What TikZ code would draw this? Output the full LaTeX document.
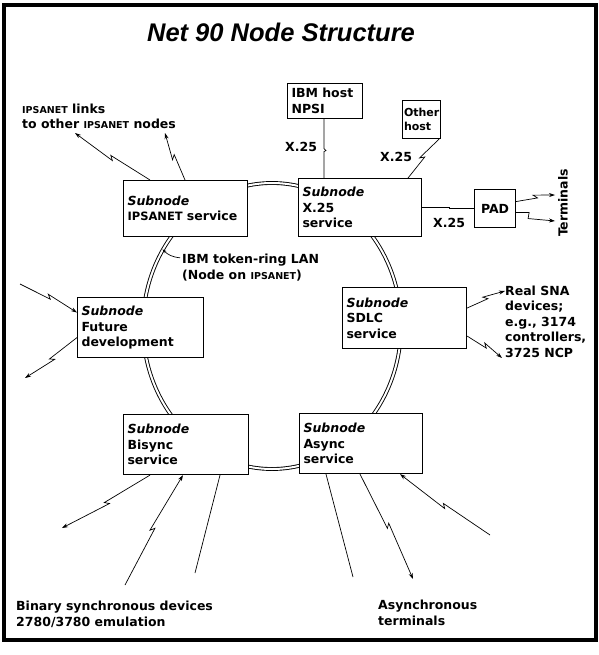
\documentclass[tikz,border=0pt]{standalone}
\usepackage{fontspec}
\setmainfont{DejaVu Sans}
\newfontfamily\titlefont{Liberation Sans}
\usetikzlibrary{calc,arrows.meta,shapes.geometric}
\newcommand\smc[1]{{\fontsize{9.5}{11}\selectfont #1}}
\newcommand\bolt[3][]{\draw[conn,#1] (#2) -- ($(#2)!0.5!(#3)!2pt!(#3)$) -- ($(#2)!0.5!(#3)!-2pt!(#3)!3.5pt!90:(#3)$) -- (#3);}
\tikzset{
  lbl/.style={font=\bfseries\fontsize{12.5}{15.5}\selectfont, inner sep=0pt, align=left, anchor=base west},
  box/.style={draw, line width=1.1pt, fill=white, inner xsep=4pt, inner ysep=0pt, align=left,
              font=\bfseries\fontsize{12.5}{15.5}\selectfont, anchor=north west},
  conn/.style={line width=0.7pt},
  tip/.style={-{Stealth[length=6pt,width=4pt]}},
  ringstyle/.style={ellipse, draw, double, double distance=2pt, line width=0.9pt, inner sep=0pt}
}
\begin{document}
\begin{tikzpicture}[x=1pt,y=-1pt]
\useasboundingbox (0,0) rectangle (598,655);
\draw[line width=4pt] (4,5) rectangle (596,640);

\node[font=\titlefont\bfseries\itshape\fontsize{25.5}{30}\selectfont, anchor=base, inner sep=0pt] (title) at (281,42) {Net 90 Node Structure};

% ring
\node[ringstyle, minimum width=258pt, minimum height=286pt] (ring) at (272,326) {};

% boxes
\node[box, text width=116pt, minimum height=56pt] (ips) at (123,180) {\textit{Subnode}\\\smc{\fontsize{11.5}{11}\selectfont IPSANET} service};
\node[box, text width=115pt, minimum height=58pt] (x25) at (298,178) {\textit{Subnode}\\X.25\\service};
\node[box, text width=118pt, minimum height=60pt] (fut) at (77,297) {\textit{Subnode}\\Future\\development};
\node[box, text width=116pt, minimum height=61pt] (sdlc) at (342,287) {\textit{Subnode}\\SDLC\\service};
\node[box, text width=117pt, minimum height=60pt] (bis) at (123,414) {\textit{Subnode}\\Bisync\\service};
\node[box, text width=115pt, minimum height=60pt] (asy) at (299,413) {\textit{Subnode}\\Async\\service};
\node[box, text width=67pt, minimum height=35pt] (npsi) at (287,83) {IBM host\\NPSI};
\node[box, inner xsep=1.5pt, text width=35pt, minimum height=38pt, font=\bfseries\fontsize{11}{14}\selectfont] (oth) at (402,100) {Other\\host};
\node[box, align=center, minimum width=41pt, minimum height=38pt] (pad) at (474,189) {PAD};

% labels (anchor = baseline of last line)
\node[lbl] (links) at (22,129) {\smc{IPSANET} links\\to other \smc{IPSANET} nodes};
\node[lbl] (lan) at (182,279) {IBM token-ring LAN\\(Node on \smc{IPSANET})};
\node[lbl] (xa) at (285,152) {X.25};
\node[lbl] (xb) at (380,162) {X.25};
\node[lbl] (xc) at (433,227) {X.25};
\node[lbl, anchor=center, rotate=90] (term) at (563,203) {Terminals};
\node[lbl] (sna) at (505,357) {Real SNA\\devices;\\e.g., 3174\\controllers,\\3725 NCP};
\node[lbl] (bsd) at (16,626) {Binary synchronous devices\\2780/3780 emulation};
\node[lbl] (ast) at (378,625) {Asynchronous\\terminals};

% coordinates
\coordinate (t1) at (75,133);
\coordinate (t2) at (165,133);
\coordinate (i1) at ($(ips.north west)+(27,0)$);
\coordinate (i2) at ($(ips.north west)+(62,0)$);
\coordinate (n1) at ($(npsi.south west)+(37,0)$);
\coordinate (n2) at ($(x25.north west)+(26,0)$);
\coordinate (o1) at ($(x25.north west)+(110,0)$);
\coordinate (o2) at ($(oth.south east)+(-2,0)$);
\coordinate (p1) at ($(pad.east)+(0,-7)$);
\coordinate (p3) at ($(pad.east)+(0,4)$);
\coordinate (r1) at (555,195);
\coordinate (r2) at (555,221);
\coordinate (f1) at (20,284);
\coordinate (f2) at (25,378);
\coordinate (fi) at ($(fut.west)+(0,-15)$);
\coordinate (fo) at ($(fut.west)+(0,10)$);
\coordinate (s1) at ($(sdlc.east)+(0,-10)$);
\coordinate (s2) at ($(sdlc.east)+(0,18)$);
\coordinate (q1) at (505,291);
\coordinate (q2) at (502,358);
\coordinate (bb1) at ($(bis.south west)+(27,0)$);
\coordinate (bb2) at ($(bis.south west)+(60,0)$);
\coordinate (bb3) at ($(bis.south west)+(97,0)$);
\coordinate (be1) at (62,528);
\coordinate (be2) at (125,585);
\coordinate (be3) at (195,573);
\coordinate (aa1) at ($(asy.south west)+(27,0)$);
\coordinate (aa2) at ($(asy.south west)+(61,0)$);
\coordinate (aa3) at ($(asy.south west)+(101,0)$);
\coordinate (ae1) at (353,577);
\coordinate (ae2) at (413,579);
\coordinate (ae3) at (490,535);
\coordinate (lanpt) at ($(lan.north west)+(-2,4)$);

% connectors
\bolt[tip]{i1}{t1}
\bolt[tip]{i2}{t2}
\draw[conn] (n1) -- ($(n1)!0.5!(n2)$) -- ++(2,2) -- ++(-2,1) -- (n2);
\bolt{o1}{o2}
\draw[conn] (x25.east) -- ++(27,0) |- (pad.west);
\bolt[tip]{p1}{r1}
\draw[conn,tip] (p3) -- ++(13,0) -- ++(-1,6) -- (r2);
\bolt[tip]{f1}{fi}
\bolt[tip]{fo}{f2}
\bolt[tip]{s1}{q1}
\bolt[tip]{s2}{q2}
\bolt[tip]{bb1}{be1}
\bolt[tip]{be2}{bb2}
\draw[conn] (bb3) -- (be3);
\draw[conn] (aa1) -- (ae1);
\bolt[tip]{aa2}{ae2}
\bolt[tip]{ae3}{aa3}
\draw[conn,-{Stealth[length=4pt,width=3pt]}] (lanpt) to[bend left=20] (ring.145);
\end{tikzpicture}
\end{document}
